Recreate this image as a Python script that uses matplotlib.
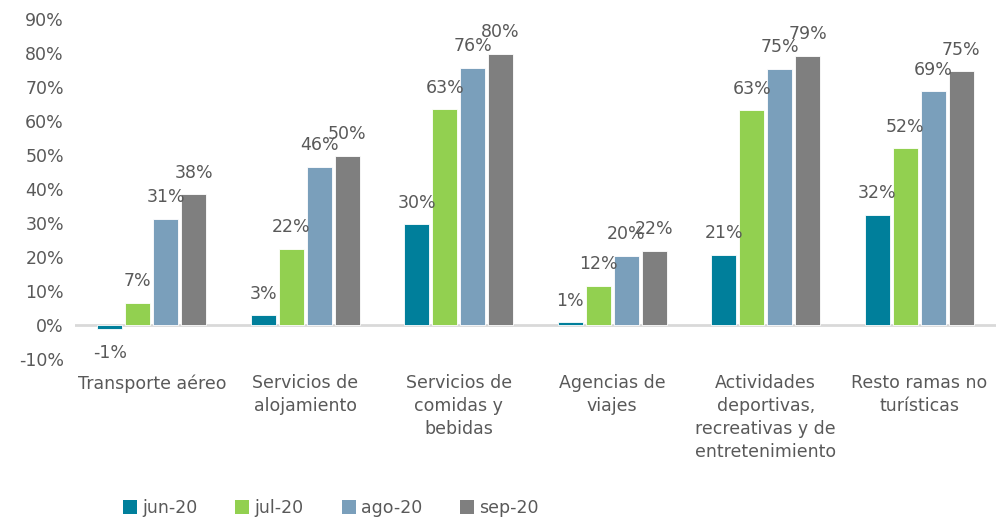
import numpy as np
import matplotlib
matplotlib.use("Agg")
import matplotlib.pyplot as plt
from matplotlib.patches import Patch

# datos
categorias = ["Transporte aéreo", "Servicios de\nalojamiento", "Servicios de\ncomidas y\nbebidas",
              "Agencias de\nviajes", "Actividades\ndeportivas,\nrecreativas y de\nentretenimiento",
              "Resto ramas no\nturísticas"]
meses = ["jun-20", "jul-20", "ago-20", "sep-20"]
jun = [-1.2, 2.9, 29.7, 0.8, 20.6, 32.4]
jul = [6.6, 22.4, 63.4, 11.5, 63.2, 52.0]
ago = [31.2, 46.5, 75.6, 20.3, 75.3, 68.8]
sep = [38.4, 49.8, 79.8, 21.8, 79.2, 74.7]
etiquetas_y = [-10, 0, 10, 20, 30, 40, 50, 60, 70, 80, 90]

colores = ["#007f9b", "#92d050", "#7a9fbb", "#7f7f7f"]
gris = "#595959"

plt.rcParams['font.family'] = ['DejaVu Sans']
plt.rcParams['font.size'] = 12.5

fig = plt.figure(figsize=(9.96, 5.18), dpi=100)
ax = fig.add_axes([75/996, 1-359/518, 921/996, 340/518])

x = np.arange(len(categorias))
ancho = 0.163
paso = 0.182
series = [jun, jul, ago, sep]
for i, (vals, col) in enumerate(zip(series, colores)):
    pos = x + (i - 1.5) * paso
    ax.bar(pos, vals, width=ancho, color=col, edgecolor="white", linewidth=0.6, zorder=2)
    for xb, v in zip(pos, vals):
        txt = f"{round(v):d}%"
        if v >= 0:
            ax.annotate(txt, (xb, v), xytext=(0, 9), textcoords="offset points",
                        ha="center", va="bottom", color=gris, fontsize=12.5)
        else:
            ax.annotate(txt, (xb, v), xytext=(0, -11), textcoords="offset points",
                        ha="center", va="top", color=gris, fontsize=12.5)

ax.axhline(0, color="#d9d9d9", linewidth=2, zorder=1)
ax.set_xlim(-0.5, len(categorias) - 0.5)
ax.set_ylim(-10, 90)
ax.set_yticks(etiquetas_y)
ax.set_yticklabels([f"{t}%" for t in etiquetas_y])
ax.set_xticks(x)
ax.set_xticklabels(categorias, linespacing=1.35)
ax.tick_params(axis="both", length=0, colors=gris, labelsize=12.5)
ax.tick_params(axis="x", pad=11)
ax.tick_params(axis="y", pad=8)
for s in ax.spines.values():
    s.set_visible(False)

handles = [Patch(facecolor=c, edgecolor="none") for c in colores]
fig.legend(handles, meses, loc="center", bbox_to_anchor=(331/996, 1-508/518), ncol=4,
           frameon=False, fontsize=12.5, labelcolor=gris, handlelength=0.8, handleheight=0.8,
           handletextpad=0.3, columnspacing=2.2)

fig.savefig("out.png", dpi=100)
